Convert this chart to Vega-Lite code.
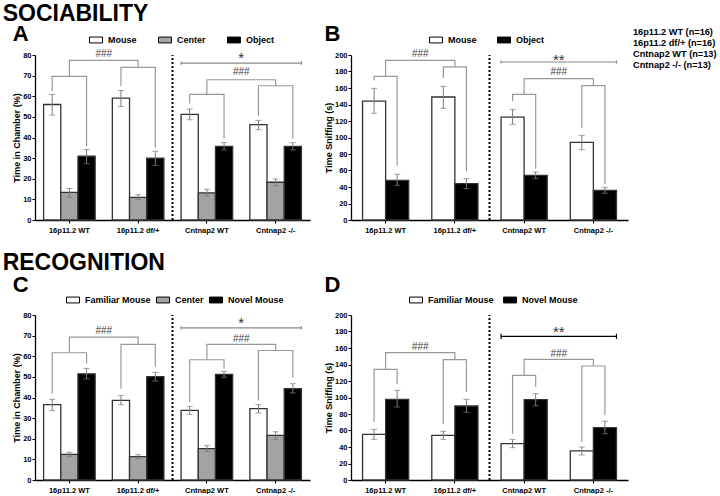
{
  "$schema": "https://vega.github.io/schema/vega-lite/v6.json",
  "padding": {"left": 2, "top": 3, "right": 0, "bottom": 0},
  "spacing": 18,
  "resolve": {"scale": {"x": "independent", "y": "independent", "xOffset": "independent", "fill": "independent"}, "axis": {"x": "independent", "y": "independent"}, "legend": {"fill": "independent"}},
  "config": {
    "view": {"stroke": null},
    "font": "Liberation Sans",
    "axis": {"domainColor": "black", "domainWidth": 1.3, "tickColor": "black", "tickWidth": 1, "tickSize": 3, "grid": false, "labelColor": "black", "labelFont": "Liberation Sans", "labelFontSize": 7.5, "labelFontWeight": "bold", "labelPadding": 1, "labelOverlap": false, "labelFlush": false, "titleColor": "black", "titleFont": "Liberation Sans", "titleFontSize": 9, "titleFontWeight": "bold", "titlePadding": 1},
    "axisX": {"labelAngle": 0, "labelPadding": 3},
    "title": {"anchor": "start", "frame": "bounds", "font": "Liberation Sans", "fontWeight": "bold", "color": "black"},
    "legend": {"labelFont": "Liberation Sans", "labelFontSize": 9, "labelFontWeight": "bold", "labelColor": "black", "symbolType": "M-1,-0.45H1V0.45H-1Z", "symbolSize": 169, "symbolStrokeColor": "black", "symbolStrokeWidth": 1, "labelOffset": 5}
  },
  "datasets": {
    "A": [
      {"g": "16p11.2 WT", "cond": "Mouse", "mean": 56.0, "lo": 50.9, "hi": 60.9},
      {"g": "16p11.2 WT", "cond": "Center", "mean": 13.4, "lo": 11.0, "hi": 15.3},
      {"g": "16p11.2 WT", "cond": "Object", "mean": 30.9, "lo": 27.3, "hi": 34.2},
      {"g": "16p11.2 df/+", "cond": "Mouse", "mean": 59.1, "lo": 55.0, "hi": 62.8},
      {"g": "16p11.2 df/+", "cond": "Center", "mean": 11.0, "lo": 9.9, "hi": 12.3},
      {"g": "16p11.2 df/+", "cond": "Object", "mean": 30.0, "lo": 26.5, "hi": 33.3},
      {"g": "Cntnap2 WT", "cond": "Mouse", "mean": 51.2, "lo": 48.6, "hi": 53.8},
      {"g": "Cntnap2 WT", "cond": "Center", "mean": 13.2, "lo": 11.6, "hi": 14.9},
      {"g": "Cntnap2 WT", "cond": "Object", "mean": 35.7, "lo": 34.0, "hi": 37.5},
      {"g": "Cntnap2 -/-", "cond": "Mouse", "mean": 46.2, "lo": 43.8, "hi": 48.3},
      {"g": "Cntnap2 -/-", "cond": "Center", "mean": 18.3, "lo": 16.5, "hi": 19.9},
      {"g": "Cntnap2 -/-", "cond": "Object", "mean": 35.7, "lo": 34.0, "hi": 37.5}
    ],
    "Abr": [
      {"id": "a1", "g": "16p11.2 WT", "cond": "Mouse", "y": 62.5, "k": 1},
      {"id": "a1", "g": "16p11.2 WT", "cond": "Mouse", "y": 69.6, "k": 2},
      {"id": "a1", "g": "16p11.2 WT", "cond": "Object", "y": 69.6, "k": 3},
      {"id": "a1", "g": "16p11.2 WT", "cond": "Object", "y": 35.8, "k": 4},
      {"id": "a2", "g": "16p11.2 df/+", "cond": "Mouse", "y": 65.0, "k": 1},
      {"id": "a2", "g": "16p11.2 df/+", "cond": "Mouse", "y": 74.0, "k": 2},
      {"id": "a2", "g": "16p11.2 df/+", "cond": "Object", "y": 74.0, "k": 3},
      {"id": "a2", "g": "16p11.2 df/+", "cond": "Object", "y": 35.0, "k": 4},
      {"id": "a3", "g": "Cntnap2 WT", "cond": "Mouse", "y": 56.5, "k": 1},
      {"id": "a3", "g": "Cntnap2 WT", "cond": "Mouse", "y": 60.9, "k": 2},
      {"id": "a3", "g": "Cntnap2 WT", "cond": "Object", "y": 60.9, "k": 3},
      {"id": "a3", "g": "Cntnap2 WT", "cond": "Object", "y": 39.5, "k": 4},
      {"id": "a4", "g": "Cntnap2 -/-", "cond": "Mouse", "y": 50.5, "k": 1},
      {"id": "a4", "g": "Cntnap2 -/-", "cond": "Mouse", "y": 65.1, "k": 2},
      {"id": "a4", "g": "Cntnap2 -/-", "cond": "Object", "y": 65.1, "k": 3},
      {"id": "a4", "g": "Cntnap2 -/-", "cond": "Object", "y": 39.5, "k": 4}
    ],
    "Atop": [
      {"id": "t1", "g": "16p11.2 WT", "y": 69.6, "k": 1},
      {"id": "t1", "g": "16p11.2 WT", "y": 77.4, "k": 2},
      {"id": "t1", "g": "16p11.2 df/+", "y": 77.4, "k": 3},
      {"id": "t1", "g": "16p11.2 df/+", "y": 74.0, "k": 4},
      {"id": "t2", "g": "Cntnap2 WT", "y": 60.9, "k": 1},
      {"id": "t2", "g": "Cntnap2 WT", "y": 68.0, "k": 2},
      {"id": "t2", "g": "Cntnap2 -/-", "y": 68.0, "k": 3},
      {"id": "t2", "g": "Cntnap2 -/-", "y": 65.1, "k": 4}
    ],
    "Atxt": [
      {"g": "16p11.2 WT", "y": 80.6, "t": "###"},
      {"g": "Cntnap2 WT", "y": 71.6, "t": "###"}
    ],
    "Astar": [{"g": "Cntnap2 WT", "y": 79.8, "t": "*"}],
    "Asig": [{"gs": "Cntnap2 WT", "ge": "Cntnap2 -/-", "y": 76.1, "lo": 75.3, "hi": 76.9}],
    "Asep": [{"g": "16p11.2 df/+", "y0": 0, "y1": 80}],
    "B": [
      {"g": "16p11.2 WT", "cond": "Mouse", "mean": 144.2, "lo": 129.3, "hi": 159.6},
      {"g": "16p11.2 WT", "cond": "Object", "mean": 48.1, "lo": 42.0, "hi": 55.4},
      {"g": "16p11.2 df/+", "cond": "Mouse", "mean": 149.1, "lo": 135.4, "hi": 162.0},
      {"g": "16p11.2 df/+", "cond": "Object", "mean": 44.0, "lo": 38.0, "hi": 50.1},
      {"g": "Cntnap2 WT", "cond": "Mouse", "mean": 124.8, "lo": 116.0, "hi": 134.1},
      {"g": "Cntnap2 WT", "cond": "Object", "mean": 54.1, "lo": 50.0, "hi": 58.2},
      {"g": "Cntnap2 -/-", "cond": "Mouse", "mean": 94.1, "lo": 85.3, "hi": 102.6},
      {"g": "Cntnap2 -/-", "cond": "Object", "mean": 36.0, "lo": 32.4, "hi": 39.6}
    ],
    "Bbr": [
      {"id": "b1", "g": "16p11.2 WT", "cond": "Mouse", "y": 169.3, "k": 1},
      {"id": "b1", "g": "16p11.2 WT", "cond": "Mouse", "y": 174.1, "k": 2},
      {"id": "b1", "g": "16p11.2 WT", "cond": "Object", "y": 174.1, "k": 3},
      {"id": "b1", "g": "16p11.2 WT", "cond": "Object", "y": 66.0, "k": 4},
      {"id": "b2", "g": "16p11.2 df/+", "cond": "Mouse", "y": 172.0, "k": 1},
      {"id": "b2", "g": "16p11.2 df/+", "cond": "Mouse", "y": 185.5, "k": 2},
      {"id": "b2", "g": "16p11.2 df/+", "cond": "Object", "y": 185.5, "k": 3},
      {"id": "b2", "g": "16p11.2 df/+", "cond": "Object", "y": 59.4, "k": 4},
      {"id": "b3", "g": "Cntnap2 WT", "cond": "Mouse", "y": 144.0, "k": 1},
      {"id": "b3", "g": "Cntnap2 WT", "cond": "Mouse", "y": 152.3, "k": 2},
      {"id": "b3", "g": "Cntnap2 WT", "cond": "Object", "y": 152.3, "k": 3},
      {"id": "b3", "g": "Cntnap2 WT", "cond": "Object", "y": 62.0, "k": 4},
      {"id": "b4", "g": "Cntnap2 -/-", "cond": "Mouse", "y": 111.5, "k": 1},
      {"id": "b4", "g": "Cntnap2 -/-", "cond": "Mouse", "y": 162.8, "k": 2},
      {"id": "b4", "g": "Cntnap2 -/-", "cond": "Object", "y": 162.8, "k": 3},
      {"id": "b4", "g": "Cntnap2 -/-", "cond": "Object", "y": 44.0, "k": 4}
    ],
    "Btop": [
      {"id": "t1", "g": "16p11.2 WT", "y": 174.1, "k": 1},
      {"id": "t1", "g": "16p11.2 WT", "y": 193.5, "k": 2},
      {"id": "t1", "g": "16p11.2 df/+", "y": 193.5, "k": 3},
      {"id": "t1", "g": "16p11.2 df/+", "y": 185.5, "k": 4},
      {"id": "t2", "g": "Cntnap2 WT", "y": 152.3, "k": 1},
      {"id": "t2", "g": "Cntnap2 WT", "y": 171.3, "k": 2},
      {"id": "t2", "g": "Cntnap2 -/-", "y": 171.3, "k": 3},
      {"id": "t2", "g": "Cntnap2 -/-", "y": 162.8, "k": 4}
    ],
    "Btxt": [
      {"g": "16p11.2 WT", "y": 200.8, "t": "###"},
      {"g": "Cntnap2 WT", "y": 179.4, "t": "###"}
    ],
    "Bstar": [{"g": "Cntnap2 WT", "y": 197.6, "t": "**"}],
    "Bsig": [{"gs": "Cntnap2 WT", "ge": "Cntnap2 -/-", "y": 191.5, "lo": 189.6, "hi": 193.4}],
    "Bsep": [{"g": "16p11.2 df/+", "y0": 0, "y1": 200}],
    "C": [
      {"g": "16p11.2 WT", "cond": "Familiar Mouse", "mean": 36.5, "lo": 33.6, "hi": 39.1},
      {"g": "16p11.2 WT", "cond": "Center", "mean": 12.4, "lo": 11.3, "hi": 13.4},
      {"g": "16p11.2 WT", "cond": "Novel Mouse", "mean": 51.5, "lo": 49.0, "hi": 54.1},
      {"g": "16p11.2 df/+", "cond": "Familiar Mouse", "mean": 38.6, "lo": 36.5, "hi": 40.9},
      {"g": "16p11.2 df/+", "cond": "Center", "mean": 11.3, "lo": 10.3, "hi": 12.3},
      {"g": "16p11.2 df/+", "cond": "Novel Mouse", "mean": 50.1, "lo": 48.0, "hi": 52.2},
      {"g": "Cntnap2 WT", "cond": "Familiar Mouse", "mean": 33.8, "lo": 31.8, "hi": 35.7},
      {"g": "Cntnap2 WT", "cond": "Center", "mean": 15.2, "lo": 13.9, "hi": 16.8},
      {"g": "Cntnap2 WT", "cond": "Novel Mouse", "mean": 51.2, "lo": 49.8, "hi": 52.7},
      {"g": "Cntnap2 -/-", "cond": "Familiar Mouse", "mean": 34.6, "lo": 32.5, "hi": 36.5},
      {"g": "Cntnap2 -/-", "cond": "Center", "mean": 21.6, "lo": 19.7, "hi": 23.4},
      {"g": "Cntnap2 -/-", "cond": "Novel Mouse", "mean": 44.3, "lo": 42.2, "hi": 46.7}
    ],
    "Cbr": [
      {"id": "c1", "g": "16p11.2 WT", "cond": "Familiar Mouse", "y": 41.8, "k": 1},
      {"id": "c1", "g": "16p11.2 WT", "cond": "Familiar Mouse", "y": 61.7, "k": 2},
      {"id": "c1", "g": "16p11.2 WT", "cond": "Novel Mouse", "y": 61.7, "k": 3},
      {"id": "c1", "g": "16p11.2 WT", "cond": "Novel Mouse", "y": 56.4, "k": 4},
      {"id": "c2", "g": "16p11.2 df/+", "cond": "Familiar Mouse", "y": 44.3, "k": 1},
      {"id": "c2", "g": "16p11.2 df/+", "cond": "Familiar Mouse", "y": 65.8, "k": 2},
      {"id": "c2", "g": "16p11.2 df/+", "cond": "Novel Mouse", "y": 65.8, "k": 3},
      {"id": "c2", "g": "16p11.2 df/+", "cond": "Novel Mouse", "y": 54.8, "k": 4},
      {"id": "c3", "g": "Cntnap2 WT", "cond": "Familiar Mouse", "y": 37.8, "k": 1},
      {"id": "c3", "g": "Cntnap2 WT", "cond": "Familiar Mouse", "y": 58.3, "k": 2},
      {"id": "c3", "g": "Cntnap2 WT", "cond": "Novel Mouse", "y": 58.3, "k": 3},
      {"id": "c3", "g": "Cntnap2 WT", "cond": "Novel Mouse", "y": 54.0, "k": 4},
      {"id": "c4", "g": "Cntnap2 -/-", "cond": "Familiar Mouse", "y": 38.6, "k": 1},
      {"id": "c4", "g": "Cntnap2 -/-", "cond": "Familiar Mouse", "y": 62.8, "k": 2},
      {"id": "c4", "g": "Cntnap2 -/-", "cond": "Novel Mouse", "y": 62.8, "k": 3},
      {"id": "c4", "g": "Cntnap2 -/-", "cond": "Novel Mouse", "y": 49.6, "k": 4}
    ],
    "Ctop": [
      {"id": "t1", "g": "16p11.2 WT", "y": 61.7, "k": 1},
      {"id": "t1", "g": "16p11.2 WT", "y": 69.3, "k": 2},
      {"id": "t1", "g": "16p11.2 df/+", "y": 69.3, "k": 3},
      {"id": "t1", "g": "16p11.2 df/+", "y": 65.8, "k": 4},
      {"id": "t2", "g": "Cntnap2 WT", "y": 58.3, "k": 1},
      {"id": "t2", "g": "Cntnap2 WT", "y": 65.8, "k": 2},
      {"id": "t2", "g": "Cntnap2 -/-", "y": 65.8, "k": 3},
      {"id": "t2", "g": "Cntnap2 -/-", "y": 62.8, "k": 4}
    ],
    "Ctxt": [
      {"g": "16p11.2 WT", "y": 72.2, "t": "###"},
      {"g": "Cntnap2 WT", "y": 68.5, "t": "###"}
    ],
    "Cstar": [{"g": "Cntnap2 WT", "y": 77.4, "t": "*"}],
    "Csig": [{"gs": "Cntnap2 WT", "ge": "Cntnap2 -/-", "y": 73.8, "lo": 73.0, "hi": 74.6}],
    "Csep": [{"g": "16p11.2 df/+", "y0": 0, "y1": 80}],
    "D": [
      {"g": "16p11.2 WT", "cond": "Familiar Mouse", "mean": 55.4, "lo": 49.3, "hi": 61.4},
      {"g": "16p11.2 WT", "cond": "Novel Mouse", "mean": 97.8, "lo": 88.5, "hi": 108.7},
      {"g": "16p11.2 df/+", "cond": "Familiar Mouse", "mean": 54.1, "lo": 49.3, "hi": 59.0},
      {"g": "16p11.2 df/+", "cond": "Novel Mouse", "mean": 89.7, "lo": 82.0, "hi": 97.8},
      {"g": "Cntnap2 WT", "cond": "Familiar Mouse", "mean": 44.0, "lo": 39.2, "hi": 49.3},
      {"g": "Cntnap2 WT", "cond": "Novel Mouse", "mean": 97.4, "lo": 90.0, "hi": 104.6},
      {"g": "Cntnap2 -/-", "cond": "Familiar Mouse", "mean": 35.2, "lo": 30.3, "hi": 40.0},
      {"g": "Cntnap2 -/-", "cond": "Novel Mouse", "mean": 63.4, "lo": 56.2, "hi": 71.1}
    ],
    "Dbr": [
      {"id": "d1", "g": "16p11.2 WT", "cond": "Familiar Mouse", "y": 70.3, "k": 1},
      {"id": "d1", "g": "16p11.2 WT", "cond": "Familiar Mouse", "y": 134.1, "k": 2},
      {"id": "d1", "g": "16p11.2 WT", "cond": "Novel Mouse", "y": 134.1, "k": 3},
      {"id": "d1", "g": "16p11.2 WT", "cond": "Novel Mouse", "y": 116.0, "k": 4},
      {"id": "d2", "g": "16p11.2 df/+", "cond": "Familiar Mouse", "y": 68.3, "k": 1},
      {"id": "d2", "g": "16p11.2 df/+", "cond": "Familiar Mouse", "y": 145.9, "k": 2},
      {"id": "d2", "g": "16p11.2 df/+", "cond": "Novel Mouse", "y": 145.9, "k": 3},
      {"id": "d2", "g": "16p11.2 df/+", "cond": "Novel Mouse", "y": 106.7, "k": 4},
      {"id": "d3", "g": "Cntnap2 WT", "cond": "Familiar Mouse", "y": 56.2, "k": 1},
      {"id": "d3", "g": "Cntnap2 WT", "cond": "Familiar Mouse", "y": 126.9, "k": 2},
      {"id": "d3", "g": "Cntnap2 WT", "cond": "Novel Mouse", "y": 126.9, "k": 3},
      {"id": "d3", "g": "Cntnap2 WT", "cond": "Novel Mouse", "y": 112.7, "k": 4},
      {"id": "d4", "g": "Cntnap2 -/-", "cond": "Familiar Mouse", "y": 46.0, "k": 1},
      {"id": "d4", "g": "Cntnap2 -/-", "cond": "Familiar Mouse", "y": 138.2, "k": 2},
      {"id": "d4", "g": "Cntnap2 -/-", "cond": "Novel Mouse", "y": 138.2, "k": 3},
      {"id": "d4", "g": "Cntnap2 -/-", "cond": "Novel Mouse", "y": 78.4, "k": 4}
    ],
    "Dtop": [
      {"id": "t1", "g": "16p11.2 WT", "y": 134.1, "k": 1},
      {"id": "t1", "g": "16p11.2 WT", "y": 154.3, "k": 2},
      {"id": "t1", "g": "16p11.2 df/+", "y": 154.3, "k": 3},
      {"id": "t1", "g": "16p11.2 df/+", "y": 145.9, "k": 4},
      {"id": "t2", "g": "Cntnap2 WT", "y": 126.9, "k": 1},
      {"id": "t2", "g": "Cntnap2 WT", "y": 146.3, "k": 2},
      {"id": "t2", "g": "Cntnap2 -/-", "y": 146.3, "k": 3},
      {"id": "t2", "g": "Cntnap2 -/-", "y": 138.2, "k": 4}
    ],
    "Dtxt": [
      {"g": "16p11.2 WT", "y": 161.2, "t": "###"},
      {"g": "Cntnap2 WT", "y": 153.1, "t": "###"}
    ],
    "Dstar": [{"g": "Cntnap2 WT", "y": 182.6, "t": "**"}],
    "Dsig": [{"gs": "Cntnap2 WT", "ge": "Cntnap2 -/-", "y": 174.1, "lo": 171.0, "hi": 177.2}],
    "Dsep": [{"g": "16p11.2 df/+", "y0": 0, "y1": 200}],
    "N": [
      {"label": "16p11.2 WT (n=16)"},
      {"label": "16p11.2 df/+ (n=16)"},
      {"label": "Cntnap2 WT (n=13)"},
      {"label": "Cntnap2 -/- (n=13)"}
    ]
  },
  "vconcat": [
    {
      "title": {"text": "SOCIABILITY", "fontSize": 23, "dx": -10, "offset": -3},
      "spacing": 14,
      "resolve": {"scale": {"x": "independent", "y": "independent", "xOffset": "independent", "fill": "independent"}, "axis": {"x": "independent", "y": "independent"}, "legend": {"fill": "independent"}},
      "hconcat": [
        {
          "title": {"text": "A", "fontSize": 22, "offset": -13},
          "width": 275, "height": 165,
          "layer": [
            {"data": {"name": "A"}, "mark": {"type": "bar", "stroke": "#333333", "strokeWidth": 1.3},
             "encoding": {
               "x": {"field": "g", "type": "nominal", "scale": {"domain": ["16p11.2 WT", "16p11.2 df/+", "Cntnap2 WT", "Cntnap2 -/-"], "paddingInner": 0, "paddingOuter": 0}, "axis": {"title": null}},
               "xOffset": {"field": "cond", "type": "nominal", "scale": {"domain": ["Mouse", "Center", "Object"], "paddingInner": 0, "paddingOuter": 0.5}},
               "y": {"field": "mean", "type": "quantitative", "scale": {"domain": [0, 80]}, "axis": {"title": "Time in Chamber (%)", "values": [0, 10, 20, 30, 40, 50, 60, 70, 80], "tickCount": 20}},
               "fill": {"field": "cond", "type": "nominal", "scale": {"domain": ["Mouse", "Center", "Object"], "range": ["white", "#a3a3a3", "black"]}, "legend": {"title": null, "orient": "none", "legendX": 54, "legendY": -22, "direction": "horizontal", "columnPadding": 19}}
             }},
            {"data": {"name": "A"}, "mark": {"type": "rule", "color": "#7a7a7a", "strokeWidth": 1},
             "encoding": {"x": {"field": "g", "type": "nominal"}, "xOffset": {"field": "cond", "type": "nominal"}, "y": {"field": "lo", "type": "quantitative"}, "y2": {"field": "hi"}}},
            {"data": {"name": "A"}, "mark": {"type": "tick", "color": "#7a7a7a", "size": 6, "thickness": 1},
             "encoding": {"x": {"field": "g", "type": "nominal"}, "xOffset": {"field": "cond", "type": "nominal"}, "y": {"field": "lo", "type": "quantitative"}}},
            {"data": {"name": "A"}, "mark": {"type": "tick", "color": "#7a7a7a", "size": 6, "thickness": 1},
             "encoding": {"x": {"field": "g", "type": "nominal"}, "xOffset": {"field": "cond", "type": "nominal"}, "y": {"field": "hi", "type": "quantitative"}}},
            {"data": {"name": "Abr"}, "mark": {"type": "line", "color": "#999999", "strokeWidth": 1.2},
             "encoding": {"x": {"field": "g", "type": "nominal"}, "xOffset": {"field": "cond", "type": "nominal"}, "y": {"field": "y", "type": "quantitative"}, "detail": {"field": "id"}, "order": {"field": "k"}}},
            {"data": {"name": "Atop"}, "mark": {"type": "line", "color": "#999999", "strokeWidth": 1.2},
             "encoding": {"x": {"field": "g", "type": "nominal"}, "y": {"field": "y", "type": "quantitative"}, "detail": {"field": "id"}, "order": {"field": "k"}}},
            {"data": {"name": "Asig"}, "mark": {"type": "rule", "color": "#888888", "strokeWidth": 1.2},
             "encoding": {"x": {"field": "gs", "type": "nominal", "bandPosition": 0.125}, "x2": {"field": "ge", "bandPosition": 0.875}, "y": {"field": "y", "type": "quantitative"}}},
            {"data": {"name": "Asig"}, "mark": {"type": "rule", "color": "#888888", "strokeWidth": 1.2},
             "encoding": {"x": {"field": "gs", "type": "nominal", "bandPosition": 0.125}, "y": {"field": "lo", "type": "quantitative"}, "y2": {"field": "hi"}}},
            {"data": {"name": "Asig"}, "mark": {"type": "rule", "color": "#888888", "strokeWidth": 1.2},
             "encoding": {"x": {"field": "ge", "type": "nominal", "bandPosition": 0.875}, "y": {"field": "lo", "type": "quantitative"}, "y2": {"field": "hi"}}},
            {"data": {"name": "Atxt"}, "mark": {"type": "text", "fontSize": 10, "color": "#444444", "baseline": "middle"},
             "encoding": {"x": {"field": "g", "type": "nominal", "bandPosition": 1}, "y": {"field": "y", "type": "quantitative"}, "text": {"field": "t"}}},
            {"data": {"name": "Astar"}, "mark": {"type": "text", "fontSize": 15, "color": "#333333", "baseline": "middle", "dy": 3},
             "encoding": {"x": {"field": "g", "type": "nominal", "bandPosition": 1}, "y": {"field": "y", "type": "quantitative"}, "text": {"field": "t"}}},
            {"data": {"name": "Asep"}, "mark": {"type": "rule", "color": "black", "strokeWidth": 2, "strokeDash": [2, 2]},
             "encoding": {"x": {"field": "g", "type": "nominal", "bandPosition": 1}, "y": {"field": "y0", "type": "quantitative"}, "y2": {"field": "y1"}}}
          ]
        },
        {
          "spacing": 0,
          "resolve": {"scale": {"x": "independent", "y": "independent", "xOffset": "independent", "fill": "independent"}, "axis": {"x": "independent", "y": "independent"}, "legend": {"fill": "independent"}},
          "hconcat": [
            {
              "title": {"text": "B", "fontSize": 22, "offset": -13},
              "width": 277, "height": 165,
              "layer": [
                {"data": {"name": "B"}, "mark": {"type": "bar", "stroke": "#333333", "strokeWidth": 1.3},
                 "encoding": {
                   "x": {"field": "g", "type": "nominal", "scale": {"domain": ["16p11.2 WT", "16p11.2 df/+", "Cntnap2 WT", "Cntnap2 -/-"], "paddingInner": 0, "paddingOuter": 0}, "axis": {"title": null}},
                   "xOffset": {"field": "cond", "type": "nominal", "scale": {"domain": ["Mouse", "Object"], "paddingInner": 0, "paddingOuter": 0.5}},
                   "y": {"field": "mean", "type": "quantitative", "scale": {"domain": [0, 200]}, "axis": {"title": "Time Sniffing (s)", "values": [0, 20, 40, 60, 80, 100, 120, 140, 160, 180, 200], "tickCount": 20}},
                   "fill": {"field": "cond", "type": "nominal", "scale": {"domain": ["Mouse", "Object"], "range": ["white", "black"]}, "legend": {"title": null, "orient": "none", "legendX": 78, "legendY": -22, "direction": "horizontal", "columnPadding": 18}}
                 }},
                {"data": {"name": "B"}, "mark": {"type": "rule", "color": "#7a7a7a", "strokeWidth": 1},
                 "encoding": {"x": {"field": "g", "type": "nominal"}, "xOffset": {"field": "cond", "type": "nominal"}, "y": {"field": "lo", "type": "quantitative"}, "y2": {"field": "hi"}}},
                {"data": {"name": "B"}, "mark": {"type": "tick", "color": "#7a7a7a", "size": 6, "thickness": 1},
                 "encoding": {"x": {"field": "g", "type": "nominal"}, "xOffset": {"field": "cond", "type": "nominal"}, "y": {"field": "lo", "type": "quantitative"}}},
                {"data": {"name": "B"}, "mark": {"type": "tick", "color": "#7a7a7a", "size": 6, "thickness": 1},
                 "encoding": {"x": {"field": "g", "type": "nominal"}, "xOffset": {"field": "cond", "type": "nominal"}, "y": {"field": "hi", "type": "quantitative"}}},
                {"data": {"name": "Bbr"}, "mark": {"type": "line", "color": "#999999", "strokeWidth": 1.2},
                 "encoding": {"x": {"field": "g", "type": "nominal"}, "xOffset": {"field": "cond", "type": "nominal"}, "y": {"field": "y", "type": "quantitative"}, "detail": {"field": "id"}, "order": {"field": "k"}}},
                {"data": {"name": "Btop"}, "mark": {"type": "line", "color": "#999999", "strokeWidth": 1.2},
                 "encoding": {"x": {"field": "g", "type": "nominal"}, "y": {"field": "y", "type": "quantitative"}, "detail": {"field": "id"}, "order": {"field": "k"}}},
                {"data": {"name": "Bsig"}, "mark": {"type": "rule", "color": "#888888", "strokeWidth": 1.2},
                 "encoding": {"x": {"field": "gs", "type": "nominal", "bandPosition": 0.1667}, "x2": {"field": "ge", "bandPosition": 0.8333}, "y": {"field": "y", "type": "quantitative"}}},
                {"data": {"name": "Bsig"}, "mark": {"type": "rule", "color": "#888888", "strokeWidth": 1.2},
                 "encoding": {"x": {"field": "gs", "type": "nominal", "bandPosition": 0.1667}, "y": {"field": "lo", "type": "quantitative"}, "y2": {"field": "hi"}}},
                {"data": {"name": "Bsig"}, "mark": {"type": "rule", "color": "#888888", "strokeWidth": 1.2},
                 "encoding": {"x": {"field": "ge", "type": "nominal", "bandPosition": 0.8333}, "y": {"field": "lo", "type": "quantitative"}, "y2": {"field": "hi"}}},
                {"data": {"name": "Btxt"}, "mark": {"type": "text", "fontSize": 10, "color": "#444444", "baseline": "middle"},
                 "encoding": {"x": {"field": "g", "type": "nominal", "bandPosition": 1}, "y": {"field": "y", "type": "quantitative"}, "text": {"field": "t"}}},
                {"data": {"name": "Bstar"}, "mark": {"type": "text", "fontSize": 15, "color": "#333333", "baseline": "middle", "dy": 3},
                 "encoding": {"x": {"field": "g", "type": "nominal", "bandPosition": 1}, "y": {"field": "y", "type": "quantitative"}, "text": {"field": "t"}}},
                {"data": {"name": "Bsep"}, "mark": {"type": "rule", "color": "black", "strokeWidth": 2, "strokeDash": [2, 2]},
                 "encoding": {"x": {"field": "g", "type": "nominal", "bandPosition": 1}, "y": {"field": "y0", "type": "quantitative"}, "y2": {"field": "y1"}}}
              ]
            },
            {
              "data": {"name": "N"},
              "width": 2, "height": 53,
              "mark": {"type": "text", "align": "left", "baseline": "middle", "fontSize": 9.2, "fontWeight": "bold", "color": "black", "dy": -33, "dx": 4},
              "encoding": {
                "y": {"field": "label", "type": "nominal", "sort": null, "axis": null, "scale": {"padding": 0.96}},
                "text": {"field": "label"}
              }
            }
          ]
        }
      ]
    },
    {
      "title": {"text": "RECOGNITION", "fontSize": 23, "dx": -10, "offset": -1},
      "spacing": 14,
      "resolve": {"scale": {"x": "independent", "y": "independent", "xOffset": "independent", "fill": "independent"}, "axis": {"x": "independent", "y": "independent"}, "legend": {"fill": "independent"}},
      "hconcat": [
        {
          "title": {"text": "C", "fontSize": 22, "offset": -4},
          "width": 275, "height": 165,
          "layer": [
            {"data": {"name": "C"}, "mark": {"type": "bar", "stroke": "#333333", "strokeWidth": 1.3},
             "encoding": {
               "x": {"field": "g", "type": "nominal", "scale": {"domain": ["16p11.2 WT", "16p11.2 df/+", "Cntnap2 WT", "Cntnap2 -/-"], "paddingInner": 0, "paddingOuter": 0}, "axis": {"title": null}},
               "xOffset": {"field": "cond", "type": "nominal", "scale": {"domain": ["Familiar Mouse", "Center", "Novel Mouse"], "paddingInner": 0, "paddingOuter": 0.5}},
               "y": {"field": "mean", "type": "quantitative", "scale": {"domain": [0, 80]}, "axis": {"title": "Time in Chamber (%)", "values": [0, 10, 20, 30, 40, 50, 60, 70, 80], "tickCount": 20}},
               "fill": {"field": "cond", "type": "nominal", "scale": {"domain": ["Familiar Mouse", "Center", "Novel Mouse"], "range": ["white", "#a3a3a3", "black"]}, "legend": {"title": null, "orient": "none", "legendX": 31, "legendY": -22, "direction": "horizontal", "columnPadding": 3}}
             }},
            {"data": {"name": "C"}, "mark": {"type": "rule", "color": "#7a7a7a", "strokeWidth": 1},
             "encoding": {"x": {"field": "g", "type": "nominal"}, "xOffset": {"field": "cond", "type": "nominal"}, "y": {"field": "lo", "type": "quantitative"}, "y2": {"field": "hi"}}},
            {"data": {"name": "C"}, "mark": {"type": "tick", "color": "#7a7a7a", "size": 6, "thickness": 1},
             "encoding": {"x": {"field": "g", "type": "nominal"}, "xOffset": {"field": "cond", "type": "nominal"}, "y": {"field": "lo", "type": "quantitative"}}},
            {"data": {"name": "C"}, "mark": {"type": "tick", "color": "#7a7a7a", "size": 6, "thickness": 1},
             "encoding": {"x": {"field": "g", "type": "nominal"}, "xOffset": {"field": "cond", "type": "nominal"}, "y": {"field": "hi", "type": "quantitative"}}},
            {"data": {"name": "Cbr"}, "mark": {"type": "line", "color": "#999999", "strokeWidth": 1.2},
             "encoding": {"x": {"field": "g", "type": "nominal"}, "xOffset": {"field": "cond", "type": "nominal"}, "y": {"field": "y", "type": "quantitative"}, "detail": {"field": "id"}, "order": {"field": "k"}}},
            {"data": {"name": "Ctop"}, "mark": {"type": "line", "color": "#999999", "strokeWidth": 1.2},
             "encoding": {"x": {"field": "g", "type": "nominal"}, "y": {"field": "y", "type": "quantitative"}, "detail": {"field": "id"}, "order": {"field": "k"}}},
            {"data": {"name": "Csig"}, "mark": {"type": "rule", "color": "#888888", "strokeWidth": 1.2},
             "encoding": {"x": {"field": "gs", "type": "nominal", "bandPosition": 0.125}, "x2": {"field": "ge", "bandPosition": 0.875}, "y": {"field": "y", "type": "quantitative"}}},
            {"data": {"name": "Csig"}, "mark": {"type": "rule", "color": "#888888", "strokeWidth": 1.2},
             "encoding": {"x": {"field": "gs", "type": "nominal", "bandPosition": 0.125}, "y": {"field": "lo", "type": "quantitative"}, "y2": {"field": "hi"}}},
            {"data": {"name": "Csig"}, "mark": {"type": "rule", "color": "#888888", "strokeWidth": 1.2},
             "encoding": {"x": {"field": "ge", "type": "nominal", "bandPosition": 0.875}, "y": {"field": "lo", "type": "quantitative"}, "y2": {"field": "hi"}}},
            {"data": {"name": "Ctxt"}, "mark": {"type": "text", "fontSize": 10, "color": "#444444", "baseline": "middle"},
             "encoding": {"x": {"field": "g", "type": "nominal", "bandPosition": 1}, "y": {"field": "y", "type": "quantitative"}, "text": {"field": "t"}}},
            {"data": {"name": "Cstar"}, "mark": {"type": "text", "fontSize": 15, "color": "#333333", "baseline": "middle", "dy": 3},
             "encoding": {"x": {"field": "g", "type": "nominal", "bandPosition": 1}, "y": {"field": "y", "type": "quantitative"}, "text": {"field": "t"}}},
            {"data": {"name": "Csep"}, "mark": {"type": "rule", "color": "black", "strokeWidth": 2, "strokeDash": [2, 2]},
             "encoding": {"x": {"field": "g", "type": "nominal", "bandPosition": 1}, "y": {"field": "y0", "type": "quantitative"}, "y2": {"field": "y1"}}}
          ]
        },
        {
          "title": {"text": "D", "fontSize": 22, "offset": -4},
          "width": 277, "height": 165,
          "layer": [
            {"data": {"name": "D"}, "mark": {"type": "bar", "stroke": "#333333", "strokeWidth": 1.3},
             "encoding": {
               "x": {"field": "g", "type": "nominal", "scale": {"domain": ["16p11.2 WT", "16p11.2 df/+", "Cntnap2 WT", "Cntnap2 -/-"], "paddingInner": 0, "paddingOuter": 0}, "axis": {"title": null}},
               "xOffset": {"field": "cond", "type": "nominal", "scale": {"domain": ["Familiar Mouse", "Novel Mouse"], "paddingInner": 0, "paddingOuter": 0.5}},
               "y": {"field": "mean", "type": "quantitative", "scale": {"domain": [0, 200]}, "axis": {"title": "Time Sniffing (s)", "values": [0, 20, 40, 60, 80, 100, 120, 140, 160, 180, 200], "tickCount": 20}},
               "fill": {"field": "cond", "type": "nominal", "scale": {"domain": ["Familiar Mouse", "Novel Mouse"], "range": ["white", "black"]}, "legend": {"title": null, "orient": "none", "legendX": 58, "legendY": -22, "direction": "horizontal", "columnPadding": 7}}
             }},
            {"data": {"name": "D"}, "mark": {"type": "rule", "color": "#7a7a7a", "strokeWidth": 1},
             "encoding": {"x": {"field": "g", "type": "nominal"}, "xOffset": {"field": "cond", "type": "nominal"}, "y": {"field": "lo", "type": "quantitative"}, "y2": {"field": "hi"}}},
            {"data": {"name": "D"}, "mark": {"type": "tick", "color": "#7a7a7a", "size": 6, "thickness": 1},
             "encoding": {"x": {"field": "g", "type": "nominal"}, "xOffset": {"field": "cond", "type": "nominal"}, "y": {"field": "lo", "type": "quantitative"}}},
            {"data": {"name": "D"}, "mark": {"type": "tick", "color": "#7a7a7a", "size": 6, "thickness": 1},
             "encoding": {"x": {"field": "g", "type": "nominal"}, "xOffset": {"field": "cond", "type": "nominal"}, "y": {"field": "hi", "type": "quantitative"}}},
            {"data": {"name": "Dbr"}, "mark": {"type": "line", "color": "#999999", "strokeWidth": 1.2},
             "encoding": {"x": {"field": "g", "type": "nominal"}, "xOffset": {"field": "cond", "type": "nominal"}, "y": {"field": "y", "type": "quantitative"}, "detail": {"field": "id"}, "order": {"field": "k"}}},
            {"data": {"name": "Dtop"}, "mark": {"type": "line", "color": "#999999", "strokeWidth": 1.2},
             "encoding": {"x": {"field": "g", "type": "nominal"}, "y": {"field": "y", "type": "quantitative"}, "detail": {"field": "id"}, "order": {"field": "k"}}},
            {"data": {"name": "Dsig"}, "mark": {"type": "rule", "color": "black", "strokeWidth": 1.2},
             "encoding": {"x": {"field": "gs", "type": "nominal", "bandPosition": 0.1667}, "x2": {"field": "ge", "bandPosition": 0.8333}, "y": {"field": "y", "type": "quantitative"}}},
            {"data": {"name": "Dsig"}, "mark": {"type": "rule", "color": "black", "strokeWidth": 1.2},
             "encoding": {"x": {"field": "gs", "type": "nominal", "bandPosition": 0.1667}, "y": {"field": "lo", "type": "quantitative"}, "y2": {"field": "hi"}}},
            {"data": {"name": "Dsig"}, "mark": {"type": "rule", "color": "black", "strokeWidth": 1.2},
             "encoding": {"x": {"field": "ge", "type": "nominal", "bandPosition": 0.8333}, "y": {"field": "lo", "type": "quantitative"}, "y2": {"field": "hi"}}},
            {"data": {"name": "Dtxt"}, "mark": {"type": "text", "fontSize": 10, "color": "#444444", "baseline": "middle"},
             "encoding": {"x": {"field": "g", "type": "nominal", "bandPosition": 1}, "y": {"field": "y", "type": "quantitative"}, "text": {"field": "t"}}},
            {"data": {"name": "Dstar"}, "mark": {"type": "text", "fontSize": 15, "color": "#333333", "baseline": "middle", "dy": 3},
             "encoding": {"x": {"field": "g", "type": "nominal", "bandPosition": 1}, "y": {"field": "y", "type": "quantitative"}, "text": {"field": "t"}}},
            {"data": {"name": "Dsep"}, "mark": {"type": "rule", "color": "black", "strokeWidth": 2, "strokeDash": [2, 2]},
             "encoding": {"x": {"field": "g", "type": "nominal", "bandPosition": 1}, "y": {"field": "y0", "type": "quantitative"}, "y2": {"field": "y1"}}}
          ]
        }
      ]
    }
  ]
}
